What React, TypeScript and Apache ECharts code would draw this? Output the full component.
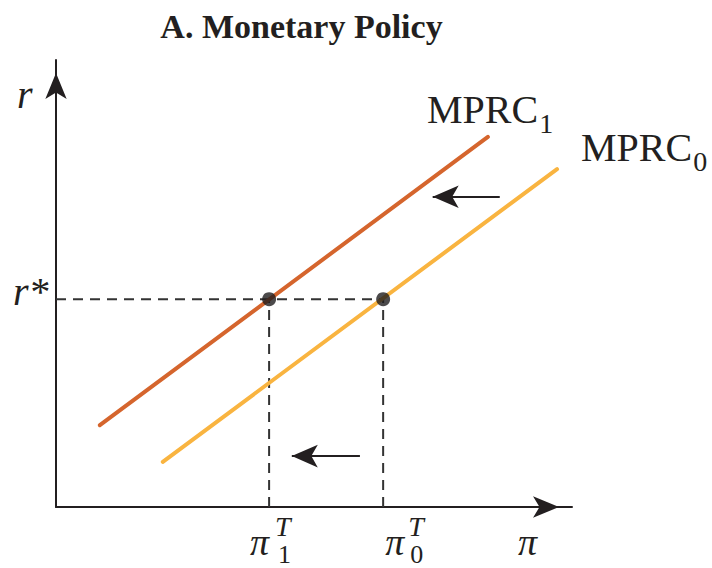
import React, { useEffect, useRef } from 'react';
import * as echarts from 'echarts';

// ---- data (economic diagram, arbitrary units 0..10) ----
const titleText = 'A. Monetary Policy';
const mprc1 = [[0.85, 1.83], [8.37, 8.28]];
const mprc0 = [[2.07, 1.01], [9.71, 7.56]];
const rStar = 4.65;
const piT1 = 4.13;
const piT0 = 6.34;
const arrowTop = [[8.6, 6.94], [7.3, 6.94]];
const arrowBottom = [[5.89, 1.14], [4.57, 1.14]];
const curveLabels = [
  { main: 'MPRC', sub: '1' },
  { main: 'MPRC', sub: '0' },
];
const tickLabels = [
  { value: piT1, sym: 'π', sup: 'T', sub: '1' },
  { value: piT0, sym: 'π', sup: 'T', sub: '0' },
];
const axisNames = { x: 'π', y: 'r', rStar: 'r*' };

const SERIF = '"Liberation Serif", "Times New Roman", serif';
const INK = '#231f20';

function measure(text: string, font: string) {
  const c = document.createElement('canvas').getContext('2d');
  if (!c) return text.length * 20;
  c.font = font;
  return c.measureText(text).width;
}

export default function App() {
  const ref = useRef<HTMLDivElement>(null);
  useEffect(() => {
    if (!ref.current) return;
    const chart = echarts.init(ref.current, null, { renderer: 'svg' });
    const axisCommon = {
      type: 'value',
      min: 0,
      max: 10,
      axisLine: {
        show: true,
        onZero: false,
        symbol: ['none', 'arrow'],
        symbolSize: [16, 26],
        symbolOffset: [0, -13],
        lineStyle: { color: INK, width: 2 },
      },
      axisTick: { show: false },
      axisLabel: { show: false },
      splitLine: { show: false },
    };
    const dash = { color: '#333', width: 2, type: [10, 7] };
    chart.setOption({
      animation: false,
      grid: { left: 56, right: 140, top: 60, bottom: 61 },
      xAxis: { ...axisCommon },
      yAxis: { ...axisCommon },
      series: [
        { type: 'line', data: [[0, rStar], [piT0, rStar]], symbol: 'none', lineStyle: dash, silent: true, z: 1 },
        { type: 'line', data: [[piT1, 0], [piT1, rStar]], symbol: 'none', lineStyle: dash, silent: true, z: 1 },
        { type: 'line', data: [[piT0, 0], [piT0, rStar]], symbol: 'none', lineStyle: dash, silent: true, z: 1 },
        { type: 'line', data: mprc1, symbol: 'none', lineStyle: { color: '#d5652d', width: 4, cap: 'round' }, silent: true, z: 3 },
        { type: 'line', data: mprc0, symbol: 'none', lineStyle: { color: '#f9b440', width: 4, cap: 'round' }, silent: true, z: 3 },
        {
          type: 'scatter',
          data: [[piT1, rStar], [piT0, rStar]],
          symbolSize: 14,
          itemStyle: { color: '#1f1d1e' },
          silent: true,
          z: 5,
        },
        {
          type: 'line',
          data: [],
          silent: true,
          markLine: {
            silent: true,
            animation: false,
            symbol: ['none', 'arrow'],
            symbolSize: [17, 26],
            label: { show: false },
            emphasis: { disabled: true },
            lineStyle: { color: INK, width: 2, type: 'solid' },
            data: [
              [{ coord: arrowTop[0] }, { coord: arrowTop[1] }],
              [{ coord: arrowBottom[0] }, { coord: arrowBottom[1] }],
            ],
          },
        },
      ],
    });

    const px = (p: number[]) => chart.convertToPixel({ gridIndex: 0 }, p) as number[];
    const txt = (text: string, x: number, y: number, size: number, opts: any = {}) => ({
      type: 'text',
      x,
      y,
      silent: true,
      style: {
        text,
        fill: INK,
        fontFamily: SERIF,
        fontSize: size,
        fontStyle: opts.italic ? 'italic' : 'normal',
        fontWeight: opts.bold ? 'bold' : 'normal',
        align: opts.align || 'left',
        verticalAlign: 'middle',
      },
    });

    const g: any[] = [];
    g.push(txt(titleText, 301.5, 26, 34, { bold: true, align: 'center' }));
    // axis names
    const yTop = px([0, 10]);
    const xEnd = px([10, 0]);
    g.push(txt(axisNames.y, yTop[0] - 39, yTop[1] + 34, 40, { italic: true }));
    g.push(txt(axisNames.x, xEnd[0] - 54, xEnd[1] + 35, 38, { italic: true }));
    const rs = px([0, rStar]);
    g.push(txt(axisNames.rStar, rs[0] - 43, rs[1] - 8, 40, { italic: true }));

    // curve labels
    const curveAnchors = [
      { x: 427, y: 109 },
      { x: 581, y: 147.5 },
    ];
    curveLabels.forEach((c, i) => {
      const a = curveAnchors[i];
      const w = measure(c.main, `40px ${SERIF}`);
      g.push(txt(c.main, a.x, a.y, 40));
      g.push(txt(c.sub, a.x + w + 1, a.y + 14, 28));
    });

    // tick labels on x axis
    const tickOffsets = [
      { pi: -19, sup: 6, sub: 9 },
      { pi: 2, sup: 25, sub: 27 },
    ];
    tickLabels.forEach((t, i) => {
      const p = px([t.value, 0]);
      const o = tickOffsets[i];
      g.push(txt(t.sym, p[0] + o.pi, p[1] + 35, 38, { italic: true }));
      g.push(txt(t.sup, p[0] + o.sup, p[1] + 19, 28, { italic: true }));
      g.push(txt(t.sub, p[0] + o.sub, p[1] + 47, 26));
    });

    chart.setOption({ graphic: { elements: g } });
    return () => chart.dispose();
  }, []);
  return (
    <div
      ref={ref}
      style={{ position: 'fixed', left: 0, top: 0, width: 712, height: 568, background: '#fff' }}
    />
  );
}
